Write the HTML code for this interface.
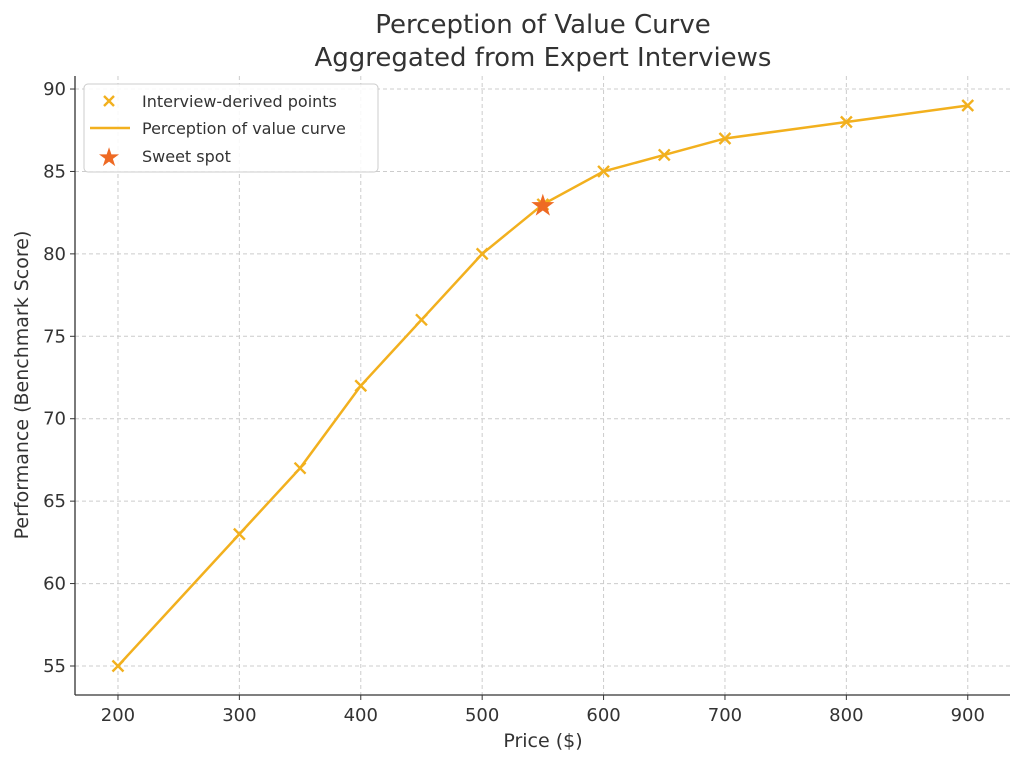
<!DOCTYPE html>
<html><head><meta charset="utf-8"><style>
body{margin:0;background:#fff;}
svg text{font-family:"DejaVu Sans","Liberation Sans",sans-serif;fill:#333;}
</style></head><body>
<svg id="chart" width="1024" height="764" viewBox="0 0 1024 764">
<text x="543" y="33" font-size="26" text-anchor="middle">Perception of Value Curve</text>
<text x="543" y="66" font-size="26" text-anchor="middle">Aggregated from Expert Interviews</text>
<g id="grid"></g>
<g id="axes"></g>
<g id="series"></g>
<text x="543" y="747" font-size="19" text-anchor="middle">Price ($)</text>
<text transform="translate(28,385) rotate(-90)" font-size="19" text-anchor="middle">Performance (Benchmark Score)</text>
<g>
<rect x="84" y="84" width="294" height="88" rx="4" fill="#fff" fill-opacity="0.85" stroke="#ccc"/>
<g>
<path d="M104,96 l10,10 M114,96 l-10,10" stroke="#f2b01e" stroke-width="2.4"/>
<text x="142" y="107" font-size="16">Interview-derived points</text></g>
<g>
<line x1="90" y1="128" x2="130" y2="128" stroke="#f2b01e" stroke-width="2.5"/>
<text x="142" y="134" font-size="16">Perception of value curve</text></g>
<g>
<text x="109" y="166" font-size="26" text-anchor="middle" style="fill:#ee6a24">★</text>
<text x="142" y="162" font-size="16">Sweet spot</text></g>
</g>
</svg>
<script>
const prices=[200,300,350,400,450,500,550,600,650,700,800,900];
const scores=[55,63,67,72,76,80,83,85,86,87,88,89];
const sweetPrice=[550];
const sweetScore=[83];
const xTicks=[200,300,400,500,600,700,800,900];
const yTicks=[55,60,65,70,75,80,85,90];
const L=75,R=1010,T=76,B=695;
const xMin=164.6,xMax=934.8,yMin=53.24,yMax=90.79;
const sx=v=>L+(v-xMin)/(xMax-xMin)*(R-L);
const sy=v=>B-(v-yMin)/(yMax-yMin)*(B-T);
const NS="http://www.w3.org/2000/svg";
function mk(tag,attrs,parent){const e=document.createElementNS(NS,tag);for(const k in attrs)e.setAttribute(k,attrs[k]);parent.appendChild(e);return e;}
const grid=document.getElementById('grid'),axes=document.getElementById('axes'),series=document.getElementById('series');
xTicks.forEach(t=>{
 const g=mk('line',{x1:sx(t),x2:sx(t),y1:T,y2:B,stroke:'#ccc','stroke-dasharray':'4,3','stroke-width':1},grid);
 
 
 const tk=mk('line',{x1:sx(t),x2:sx(t),y1:B,y2:B+5,stroke:'#333'},axes);
 
 
 const lb=mk('text',{x:sx(t),y:B+26,'font-size':18,'text-anchor':'middle'},axes);lb.textContent=t;
 
 
});
yTicks.forEach(t=>{
 const g=mk('line',{x1:L,x2:R,y1:sy(t),y2:sy(t),stroke:'#ccc','stroke-dasharray':'4,3','stroke-width':1},grid);
 
 
 const tk=mk('line',{x1:L-5,x2:L,y1:sy(t),y2:sy(t),stroke:'#333'},axes);
 
 
 const lb=mk('text',{x:L-9,y:sy(t)+6,'font-size':18,'text-anchor':'end'},axes);lb.textContent=t;
 
 
});
const xa=mk('line',{x1:L,x2:R,y1:B,y2:B,stroke:'#333','stroke-width':1.3},axes);


const ya=mk('line',{x1:L,x2:L,y1:T,y2:B,stroke:'#333','stroke-width':1.3},axes);


const pl=mk('polyline',{points:prices.map((p,i)=>sx(p)+','+sy(scores[i])).join(' '),fill:'none',stroke:'#f2b01e','stroke-width':2.5},series);


prices.forEach((p,i)=>{
 const x=sx(p),y=sy(scores[i]);
 const m=mk('path',{d:`M${x-5.5},${y-5.5} L${x+5.5},${y+5.5} M${x+5.5},${y-5.5} L${x-5.5},${y+5.5}`,stroke:'#f2b01e','stroke-width':2.4},series);
 
 
});
sweetPrice.forEach((p,i)=>{
 const s=mk('text',{x:sx(p),y:sy(sweetScore[i])+11,'font-size':30,'text-anchor':'middle',style:'fill:#ee6a24'},series);
 s.textContent='★';
 
 
});
</script>
</body></html>
